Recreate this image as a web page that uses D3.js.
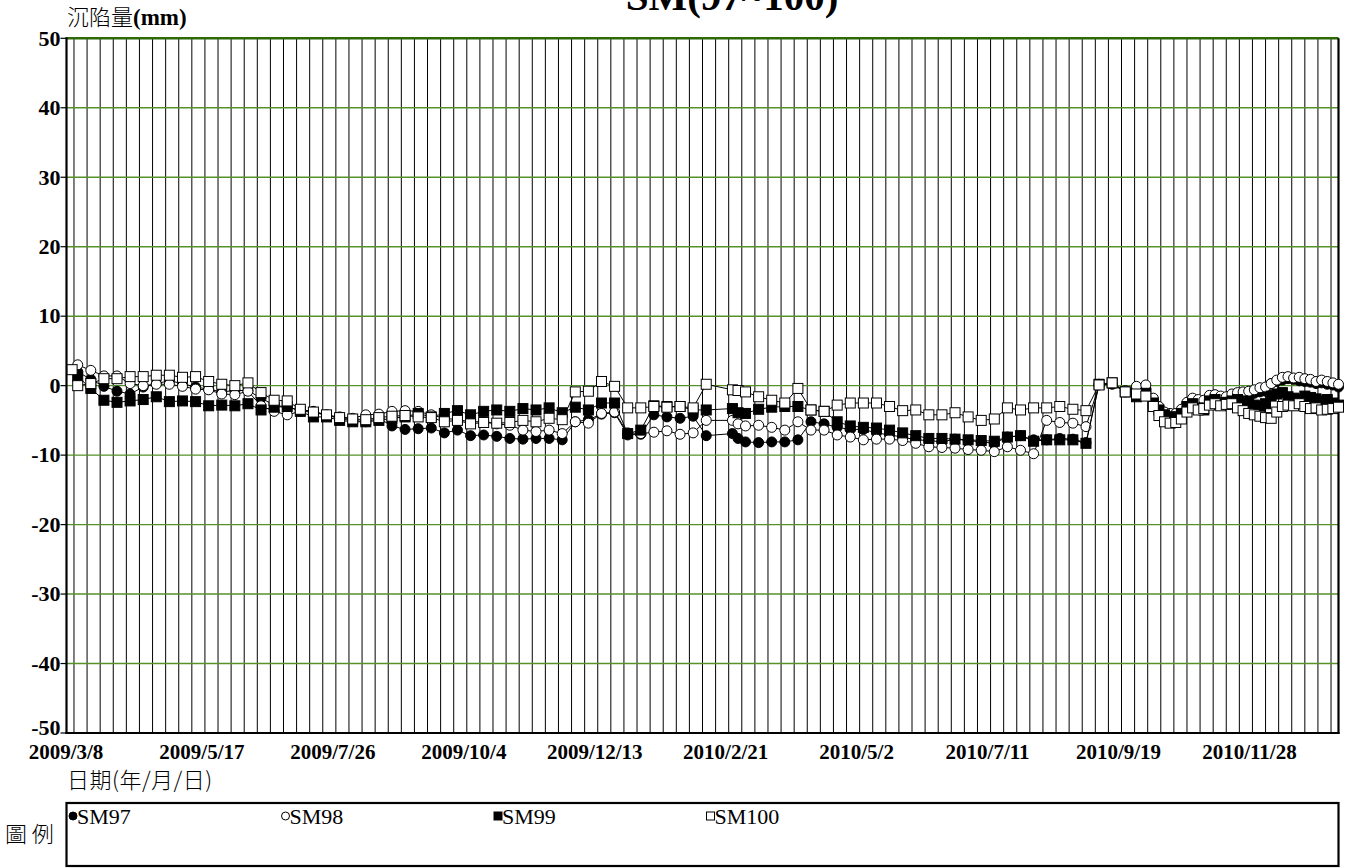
<!DOCTYPE html>
<html><head><meta charset="utf-8">
<script src="https://cdn.jsdelivr.net/npm/d3@7"></script>
<style>body{margin:0;background:#fff;} svg{display:block}</style>
</head><body>
<svg id="c" width="1350" height="868"></svg>
<script>
// ---------- data ----------
const dates = [
"2009-03-07",
"2009-03-10","2009-03-17","2009-03-24","2009-03-31","2009-04-07","2009-04-14","2009-04-21","2009-04-28","2009-05-05","2009-05-12",
"2009-05-19","2009-05-26","2009-06-02","2009-06-09","2009-06-16","2009-06-23","2009-06-30","2009-07-07","2009-07-14","2009-07-21",
"2009-07-28","2009-08-04","2009-08-11","2009-08-18","2009-08-25","2009-09-01","2009-09-08","2009-09-15","2009-09-22","2009-09-29",
"2009-10-06","2009-10-13","2009-10-20","2009-10-27","2009-11-03","2009-11-10","2009-11-17","2009-11-24","2009-12-01","2009-12-08",
"2009-12-15","2009-12-22","2009-12-29","2010-01-05","2010-01-12","2010-01-19","2010-01-26","2010-02-02","2010-02-09",
"2010-02-23","2010-02-26","2010-03-02","2010-03-09","2010-03-16","2010-03-23","2010-03-30","2010-04-06","2010-04-13","2010-04-20",
"2010-04-27","2010-05-04","2010-05-11","2010-05-18","2010-05-25","2010-06-01","2010-06-08","2010-06-15","2010-06-22","2010-06-29",
"2010-07-06","2010-07-13","2010-07-20","2010-07-27","2010-08-03","2010-08-10","2010-08-17","2010-08-24","2010-08-31","2010-09-07",
"2010-09-14","2010-09-21",
"2010-09-27","2010-10-02","2010-10-06","2010-10-09","2010-10-12","2010-10-15","2010-10-18","2010-10-21","2010-10-24","2010-10-27",
"2010-10-30","2010-11-02","2010-11-05","2010-11-08","2010-11-11","2010-11-14","2010-11-17","2010-11-20","2010-11-23","2010-11-26",
"2010-11-29","2010-12-02","2010-12-05","2010-12-08","2010-12-11","2010-12-14","2010-12-17","2010-12-20","2010-12-23","2010-12-26",
"2010-12-29","2011-01-01","2011-01-04","2011-01-07","2011-01-10","2011-01-13"
];
const sm97 = [
null,
2.0,0.9,-0.1,-0.8,-1.2,-0.2,0.3,0.7,0.3,-0.2,
-0.5,-0.9,-0.7,-0.7,-1.8,-2.8,-3.1,-3.5,-3.7,-4.2,
-4.8,-5.0,-5.2,-4.7,-5.8,-6.3,-6.2,-6.1,-6.8,-6.4,
-7.2,-7.1,-7.3,-7.6,-7.7,-7.6,-7.6,-7.8,-5.2,-4.9,
-4.1,-3.9,-7.1,-7.0,-4.2,-4.5,-4.7,-4.4,-7.2,
-6.9,-7.6,-8.1,-8.2,-8.1,-8.1,-7.8,-5.2,-5.5,-6.0,
-6.3,-6.3,-6.8,-7.1,-7.4,-7.8,-7.9,-8.1,-7.7,-7.9,
-8.1,-8.3,-7.4,-7.2,-7.8,-7.8,-7.6,-7.7,-8.2,0.2,
0.2,-0.9,
-0.2,-0.5,-2.0,-3.2,-4.0,-4.4,-4.3,-3.7,-2.6,-2.0,
-2.3,-2.5,-1.6,-1.5,-1.7,-1.8,-1.6,-1.4,-1.3,-1.2,
-1.1,-0.9,-0.8,0.3,0.6,0.8,1.0,0.9,0.7,0.6,
0.5,0.3,0.4,0.2,0.1,-0.2
];
const sm98 = [
null,
3.0,2.2,1.4,1.4,0.3,0.0,0.2,0.2,-0.1,-0.5,
-0.6,-1.2,-1.3,-0.8,-2.9,-3.7,-4.2,-3.7,-3.8,-4.3,
-4.5,-4.7,-4.2,-4.1,-3.7,-3.6,-3.7,-4.2,-4.7,-4.9,
-5.2,-5.2,-5.5,-5.7,-6.4,-6.6,-6.4,-6.9,-5.2,-5.4,
-4.0,-3.8,-6.8,-6.9,-6.7,-6.5,-7.0,-6.8,-5.0,
-5.0,-5.5,-5.8,-5.7,-6.0,-6.4,-5.2,-6.4,-6.4,-7.1,
-7.4,-7.8,-7.7,-7.7,-7.9,-8.3,-8.8,-8.9,-9.0,-9.2,
-9.3,-9.5,-8.8,-9.3,-9.8,-5.0,-5.3,-5.4,-5.9,0.1,
0.3,-0.7,
-0.1,0.1,-1.8,-3.0,-3.8,-4.0,-4.0,-3.4,-2.4,-1.8,
-2.0,-2.1,-1.4,-1.3,-1.5,-1.6,-1.2,-1.0,-0.9,-0.8,
-0.6,-0.3,-0.2,0.3,0.8,1.2,1.3,1.1,1.2,1.0,
0.9,0.6,0.8,0.6,0.4,0.2
];
const sm99 = [
null,
1.3,-0.4,-2.1,-2.4,-2.2,-2.0,-1.6,-2.3,-2.2,-2.3,
-2.9,-2.8,-2.9,-2.6,-3.5,-3.1,-3.0,-3.7,-4.5,-4.5,
-5.0,-5.2,-5.2,-5.0,-4.7,-4.5,-4.0,-4.5,-4.0,-3.6,
-4.2,-3.7,-3.5,-3.7,-3.3,-3.5,-3.2,-3.9,-3.1,-3.5,
-2.5,-2.5,-6.9,-6.4,-2.9,-3.0,-3.0,-3.5,-3.5,
-3.3,-3.9,-4.0,-3.4,-3.1,-3.0,-3.0,-3.5,-3.7,-5.2,
-5.8,-6.0,-6.1,-6.4,-6.8,-7.2,-7.6,-7.6,-7.7,-7.8,
-7.9,-8.0,-7.4,-7.2,-8.0,-7.8,-7.8,-7.8,-8.3,0.2,
0.4,-0.9,
-1.6,-1.1,-2.5,-3.5,-4.2,-4.5,-4.5,-4.0,-3.0,-2.6,
-3.2,-3.5,-2.2,-2.0,-2.5,-2.4,-2.2,-2.0,-2.2,-2.5,
-2.8,-3.0,-2.6,-1.5,-1.2,-1.0,-1.6,-1.8,-2.0,-1.5,
-1.7,-1.9,-2.2,-2.0,-2.5,-2.8
];
const sm100 = [
2.3,
0.0,0.3,1.0,1.0,1.3,1.3,1.5,1.5,1.2,1.3,
0.6,0.2,0.0,0.4,-1.0,-2.1,-2.2,-3.4,-3.8,-4.2,
-4.6,-4.8,-4.9,-4.6,-4.4,-4.3,-4.5,-4.6,-5.2,-5.0,
-5.5,-5.3,-5.4,-5.3,-5.0,-5.2,-4.7,-4.9,-0.9,-0.8,
0.6,-0.1,-3.2,-3.2,-3.0,-3.1,-3.0,-3.2,0.2,
-0.6,-0.7,-0.9,-1.6,-2.1,-2.5,-0.4,-3.5,-3.7,-2.8,
-2.5,-2.5,-2.5,-3.0,-3.6,-3.5,-4.2,-4.2,-3.9,-4.5,
-5.0,-4.8,-3.2,-3.5,-3.2,-3.2,-3.0,-3.4,-3.6,0.1,
0.4,-0.9,
-1.2,-1.5,-3.0,-4.3,-5.2,-5.4,-5.3,-4.8,-3.8,-3.2,
-3.5,-3.3,-2.8,-2.6,-2.9,-2.7,-2.6,-3.2,-3.6,-4.0,
-4.2,-4.4,-4.6,-4.7,-3.8,-3.0,-2.8,-2.9,-2.6,-3.0,
-3.3,-3.2,-3.5,-3.4,-3.3,-3.1
];
const seriesNames = ["SM97","SM98","SM99","SM100"];
const yTicks = [50,40,30,20,10,0,-10,-20,-30,-40,-50];
const xTickLabels = ["2009/3/8","2009/5/17","2009/7/26","2009/10/4","2009/12/13","2010/2/21","2010/5/2","2010/7/11","2010/9/19","2010/11/28"];
const titleText = "SM(97~100)";
const yTitle = ["沉陷量","(mm)"];
const xTitle = "日期(年/月/日)";
const legendTitle = "圖 例";

// ---------- layout ----------
const svg = d3.select("#c");
const L = 66.5, R = 1338.5, T = 38.3, B = 733;
const parse = d3.utcParse("%Y-%m-%d");
const parseLbl = d3.utcParse("%Y/%m/%d");
const x = d3.scaleUtc().domain([parse("2009-03-04"), parse("2011-01-13")]).range([L, R]);
const y = d3.scaleLinear().domain([-50, 50]).range([B, T]);
const serif = "'Liberation Serif','Times New Roman',serif";
const cjk = "'Noto Sans CJK TC','Noto Sans CJK SC',sans-serif";

// title (clipped at top as in reference)
svg.append("text").attr("x", 732).attr("y", 10).attr("text-anchor", "middle")
  .attr("font-family", serif).attr("font-weight", "bold").attr("font-size", 41).text(titleText);

// y title
const yt = svg.append("text").attr("x", 67).attr("y", 25).attr("font-size", 22);
yt.append("tspan").attr("font-family", cjk).attr("font-weight", 300).text(yTitle[0]);
yt.append("tspan").attr("font-family", serif).attr("font-weight", "bold").attr("font-size", 23).text(yTitle[1]);

// vertical weekly grid
const weeks = d3.utcWeek.range(parse("2009-03-08"), parse("2011-01-13"));
svg.append("g").selectAll("line").data(weeks).join("line")
  .attr("x1", d => x(d)).attr("x2", d => x(d)).attr("y1", T).attr("y2", B)
  .attr("stroke", "#000").attr("stroke-width", 1);

// horizontal grid
svg.append("g").selectAll("line").data(yTicks.filter(v => v !== -50 && v !== 50)).join("line")
  .attr("x1", L).attr("x2", R).attr("y1", d => y(d)).attr("y2", d => y(d))
  .attr("stroke", "#56912a").attr("stroke-width", 1.4);
svg.append("line").attr("x1", L).attr("x2", R).attr("y1", y(50)).attr("y2", y(50))
  .attr("stroke", "#2f6a08").attr("stroke-width", 2.4);

// frame
svg.append("line").attr("x1", L).attr("x2", L).attr("y1", T - 1).attr("y2", B + 1).attr("stroke", "#000").attr("stroke-width", 2.2);
svg.append("line").attr("x1", R).attr("x2", R).attr("y1", T).attr("y2", B + 1).attr("stroke", "#000").attr("stroke-width", 2.2);
svg.append("line").attr("x1", L - 1).attr("x2", R + 1).attr("y1", B).attr("y2", B).attr("stroke", "#000").attr("stroke-width", 2.2);

// y ticks & labels
const yg = svg.append("g");
yg.selectAll("line").data(yTicks).join("line")
  .attr("x1", L - 6).attr("x2", L).attr("y1", d => y(d)).attr("y2", d => y(d)).attr("stroke", "#000").attr("stroke-width", 1.2);
yg.selectAll("text").data(yTicks).join("text")
  .attr("x", L - 6).attr("y", d => y(d) - (d === -50 ? 5 : 0)).attr("dy", "0.33em").attr("text-anchor", "end")
  .attr("font-family", serif).attr("font-weight", "bold").attr("font-size", 22).text(d => d);

// x labels
svg.append("g").selectAll("text").data(xTickLabels).join("text")
  .attr("x", (d, i) => x(parseLbl(d)) - (i === 0 ? 8 : 3)).attr("y", 759).attr("text-anchor", "middle")
  .attr("font-family", serif).attr("font-weight", "bold").attr("font-size", 21).text(d => d);

svg.append("text").attr("x", 67).attr("y", 788).attr("font-family", cjk).attr("font-weight", 300)
  .attr("font-size", 22).attr("letter-spacing", 0.5).text(xTitle);

// series
const allSeries = [sm97, sm98, sm99, sm100];
const shapes = ["fcircle", "ocircle", "fsquare", "osquare"];
const line = d3.line().defined(d => d.v != null).x(d => x(d.date)).y(d => y(d.v));
allSeries.forEach((vals, i) => {
  const pts = dates.map((d, j) => ({ date: parse(d), v: vals[j] }));
  const g = svg.append("g");
  g.append("path").datum(pts.filter(p => p.v != null)).attr("d", line)
    .attr("fill", "none").attr("stroke", "#000").attr("stroke-width", 1);
  const valid = pts.filter(p => p.v != null);
  const s = shapes[i];
  if (s.endsWith("circle")) {
    g.selectAll("circle").data(valid).join("circle")
      .attr("cx", d => x(d.date)).attr("cy", d => y(d.v)).attr("r", 5)
      .attr("fill", s === "fcircle" ? "#000" : "#fff").attr("stroke", "#000").attr("stroke-width", 1);
  } else {
    g.selectAll("rect").data(valid).join("rect")
      .attr("x", d => x(d.date) - 5).attr("y", d => y(d.v) - 5).attr("width", 10).attr("height", 10)
      .attr("fill", s === "fsquare" ? "#000" : "#fff").attr("stroke", "#000").attr("stroke-width", 1);
  }
});

// legend
svg.append("rect").attr("x", L).attr("y", 803).attr("width", R - L).attr("height", 63)
  .attr("fill", "none").attr("stroke", "#000").attr("stroke-width", 2.2);
svg.append("text").attr("x", 5).attr("y", 842).attr("font-family", cjk).attr("font-weight", 300)
  .attr("font-size", 22).text(legendTitle);
const lg = svg.append("g");
seriesNames.forEach((name, i) => {
  const lx = 69 + i * 212.5, ly = 816;
  const s = shapes[i];
  if (s.endsWith("circle")) {
    lg.append("circle").attr("cx", lx + 4).attr("cy", ly).attr("r", 4)
      .attr("fill", s === "fcircle" ? "#000" : "#fff").attr("stroke", "#000").attr("stroke-width", 1);
  } else {
    lg.append("rect").attr("x", lx).attr("y", ly - 4).attr("width", 8).attr("height", 8)
      .attr("fill", s === "fsquare" ? "#000" : "#fff").attr("stroke", "#000").attr("stroke-width", 1);
  }
  lg.append("text").attr("x", lx + 8).attr("y", ly + 8).attr("font-family", serif)
    .attr("font-size", 22).text(name);
});
</script>
</body></html>
